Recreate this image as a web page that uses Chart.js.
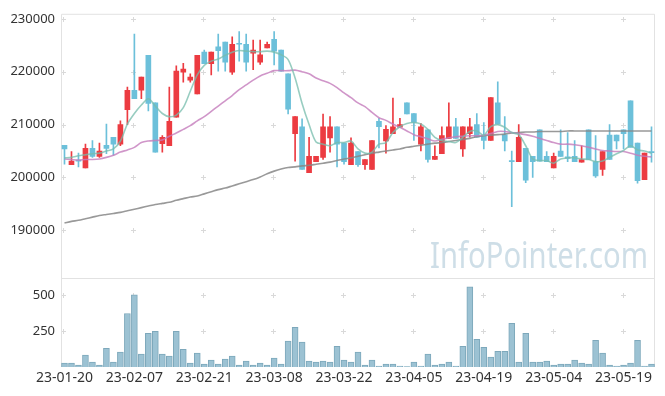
<!DOCTYPE html>
<html>
<head>
<meta charset="utf-8">
<script src="https://cdn.jsdelivr.net/npm/chart.js"></script>
<style>
  html, body { margin: 0; padding: 0; background: #fff; }
  #wrap { width: 665px; height: 396px; }
</style>
</head>
<body>
<div id="wrap"><canvas id="stockChart" width="665" height="396"></canvas></div>
<script>
const dates = [
  '23-01-20','23-01-25','23-01-26','23-01-27','23-01-30','23-01-31',
  '23-02-01','23-02-02','23-02-03','23-02-06','23-02-07','23-02-08','23-02-09','23-02-10','23-02-13','23-02-14',
  '23-02-15','23-02-16','23-02-17','23-02-20','23-02-21','23-02-22','23-02-23','23-02-24','23-02-27','23-02-28',
  '23-03-02','23-03-03','23-03-06','23-03-07','23-03-08','23-03-09','23-03-10','23-03-13','23-03-14','23-03-15',
  '23-03-16','23-03-17','23-03-20','23-03-21','23-03-22','23-03-23','23-03-24','23-03-27','23-03-28','23-03-29',
  '23-03-30','23-03-31','23-04-03','23-04-04','23-04-05','23-04-06','23-04-07','23-04-10','23-04-11','23-04-12',
  '23-04-13','23-04-14','23-04-17','23-04-18','23-04-19','23-04-20','23-04-21','23-04-24','23-04-25','23-04-26',
  '23-04-27','23-04-28','23-05-02','23-05-03','23-05-04','23-05-08','23-05-09','23-05-10','23-05-11','23-05-12',
  '23-05-15','23-05-16','23-05-17','23-05-18','23-05-19','23-05-22','23-05-23','23-05-24','23-05-25'
];

const openPrices = [
  206100, 202400, 203300, 201800, 205500, 204000, 206100, 207600, 206300, 212800,
  216500, 216500, 223100, 214100, 206400, 206000, 211400, 219900, 218400, 215800,
  223700, 221500, 224700, 225600, 219900, 225300, 225200, 223500, 221800, 224500,
  226100, 224100, 219600, 208300, 209600, 200900, 203000, 203800, 207500, 209600,
  206500, 202400, 204900, 202400, 201500, 210600, 206900, 208300, 209500, 214100,
  212100, 206300, 209000, 203400, 204500, 207400, 209600, 205400, 208300, 210000,
  207900, 207000, 214100, 208100, 203100, 203000, 205500, 204000, 209000, 204000,
  201800, 205000, 203900, 204000, 202900, 209000, 203000, 201500, 208000, 208000,
  209000, 214500, 206500, 199600, 204900
];
const highPrices = [
  206100, 204900, 204600, 206300, 207000, 206500, 210100, 207600, 210700, 217100,
  227100, 219000, 223100, 214100, 207900, 217100, 221100, 221600, 219600, 223100,
  224100, 223700, 227100, 225600, 226600, 227600, 227100, 226000, 226000, 225600,
  227600, 224100, 219600, 211500, 211100, 207600, 204000, 212000, 211500, 209600,
  206500, 207500, 204900, 203400, 207000, 211200, 209800, 215000, 211200, 214100,
  212100, 210200, 209000, 206000, 209600, 214100, 211200, 209600, 211200, 212100,
  210400, 215100, 218100, 211500, 205000, 210000, 205500, 204000, 209000, 204900,
  204600, 209000, 208500, 207000, 206000, 209000, 207900, 204900, 210000, 208000,
  209000, 214500, 206500, 204600, 209600
];
const lowPrices = [
  202500, 202400, 202000, 201800, 203800, 203800, 204500, 204200, 206000, 210000,
  214900, 214900, 212600, 204800, 204800, 206000, 211400, 218000, 218000, 215800,
  221500, 219400, 220100, 220100, 219500, 222000, 220100, 220400, 221400, 224500,
  221300, 220100, 212000, 203100, 201500, 200900, 203000, 203400, 204800, 202000,
  202500, 202400, 202100, 201500, 201500, 205600, 204600, 208300, 209500, 212000,
  207000, 205000, 202900, 203400, 204500, 207400, 207400, 204000, 207600, 207600,
  205400, 207000, 210100, 205000, 194500, 203000, 199000, 200000, 203100, 203000,
  201800, 204000, 203000, 203000, 202900, 203400, 200000, 200400, 203400, 205400,
  205400, 205800, 198900, 199600, 202900
];
const closePrices = [
  205400, 203100, 203100, 205500, 204000, 205000, 205500, 206300, 210000, 216500,
  214900, 219000, 214000, 204800, 207600, 210600, 220100, 220500, 219000, 223100,
  221500, 223700, 224000, 221800, 225200, 225200, 221800, 224100, 223200, 225200,
  223900, 220100, 212900, 211500, 201500, 204000, 204000, 209600, 209600, 206300,
  203000, 206500, 202400, 203400, 207000, 209600, 209100, 209600, 210000, 212000,
  210400, 209600, 203400, 204000, 207900, 209600, 207400, 209600, 209600, 207600,
  207000, 215100, 210100, 206900, 203000, 207600, 199500, 203000, 203100, 203000,
  204000, 204000, 203600, 203000, 203400, 203400, 200300, 204900, 203400, 206900,
  208300, 205700, 199400, 204600, 204700
];

const ma5 = [
  203700, 203800, 204100, 204300, 204500, 204600, 205000, 205400, 206900, 210100,
  212100, 213700, 214900, 213500, 212100, 211500, 211800, 213200, 216300, 219400,
  221200, 222000, 222400, 223100, 223700, 224000, 223900, 223800, 223800, 223900,
  223700, 223200, 222300, 218800, 214000, 210000, 206700, 206300, 206000, 206600,
  206600, 206900, 205400, 204600, 204800, 206300, 206600, 208500, 209600, 210200,
  210400, 210100, 209100, 207600, 207000, 206800, 206600, 207600, 208700, 208800,
  208000, 209600, 210000, 209500, 208500, 208100, 206000, 203500, 203200, 203200,
  202700, 203500, 203700, 203700, 203500, 203400, 203000, 203100, 203800, 204500,
  205100, 206000, 205200, 205000, 204600
];
const ma20 = [
  203500, 203400, 203300, 203400, 203400, 203500, 203800, 204200, 204800, 205200,
  205700, 206600, 206900, 207000, 207100, 207800, 208400, 209100, 209800, 210700,
  211500, 212500, 213500, 214500, 215500, 216600, 217500, 218400, 219200, 219700,
  220200, 220200, 220200, 220300, 220000, 219600, 218800, 218300, 217800, 217000,
  216000, 215100, 214100, 213400, 212300, 211300, 210800, 210100, 209500, 208800,
  208100, 207700, 207300, 206900, 207200, 207500, 207700, 207800, 207900, 207900,
  208000, 208300, 208700, 208700, 208500, 208300, 208100, 207800, 207400, 207000,
  206600, 206300, 206300, 206200, 206000, 205700, 205400, 205100, 205000, 204900,
  204900, 204600, 204200, 204000, 203900
];
const ma60 = [
  191400, 191700, 191900, 192200, 192500, 192800, 193000, 193200, 193400, 193700,
  194000, 194300, 194600, 194900, 195100, 195300, 195700, 196000, 196300, 196500,
  196900, 197300, 197700, 198000, 198400, 198800, 199200, 199600, 200100, 200700,
  201200, 201600, 201900, 202000, 202200, 202300, 202500, 202700, 202900, 203200,
  203500, 203700, 204000, 204300, 204600, 204800, 205000, 205200, 205400, 205700,
  205900, 206100, 206300, 206500, 206600, 206800, 207000, 207200, 207400, 207700,
  207900, 208000, 208100, 208200, 208400, 208500, 208600, 208600, 208700, 208700,
  208700, 208700, 208800, 208800, 208800, 208800, 208800, 208800, 208800, 208800,
  208800, 208800, 208800, 208800, 208800
];

const volumes = [
  28, 28, 14, 83, 35, 14, 131, 35, 104, 373,
  504, 90, 235, 249, 90, 76, 249, 124, 28, 97,
  21, 48, 21, 55, 76, 14, 41, 14, 28, 14,
  62, 21, 180, 276, 173, 41, 35, 41, 35, 145,
  48, 35, 104, 14, 48, 7, 21, 21, 7, 3,
  35, 7, 90, 14, 21, 35, 7, 145, 559, 193,
  138, 69, 110, 110, 304, 35, 235, 35, 35, 41,
  14, 21, 21, 48, 28, 21, 186, 97, 14, 7,
  14, 28, 186, 7, 21
];

const priceTicks = [190000, 200000, 210000, 220000, 230000];
const volumeTicks = [250, 500];

const UP_COLOR = '#ec3b41';
const DOWN_COLOR = '#6cc0da';
const FRAME_COLOR = '#e2e2e2';

Chart.defaults.font.family = '"Noto Sans", sans-serif';
Chart.defaults.color = '#333';

const candleColors = closePrices.map((c, i) => c >= openPrices[i] ? UP_COLOR : DOWN_COLOR);
const wicks = lowPrices.map((l, i) => [l, highPrices[i]]);
const bodies = openPrices.map((o, i) => [o, closePrices[i]]);

// frame, "+" grid marks and the watermark, drawn under the data
const backdrop = {
  id: 'backdrop',
  beforeDatasetsDraw(chart) {
    const { ctx, chartArea, scales } = chart;
    const { x, y, yv } = scales;
    ctx.save();

    ctx.font = '36px "Noto Sans"';
    ctx.fillStyle = 'rgba(165,195,212,0.55)';
    ctx.textBaseline = 'alphabetic';
    const text = 'InfoPointer.com';
    const w = ctx.measureText(text).width;
    ctx.translate(430, 268);
    ctx.scale(218 / w, 1);
    ctx.fillText(text, 0, 0);
    ctx.setTransform(1, 0, 0, 1, 0, 0);

    ctx.strokeStyle = '#d9d9d9';
    ctx.lineWidth = 1;
    const cols = x.ticks.map(t => Math.round(x.getPixelForValue(t.value)) - 0.5);
    const rows = priceTicks.map(v => Math.round(y.getPixelForValue(v)) + 0.5)
      .concat(volumeTicks.map(v => Math.round(yv.getPixelForValue(v)) + 0.5));
    ctx.beginPath();
    cols.forEach(cx => {
      rows.forEach(cy => {
        ctx.moveTo(cx - 2.5, cy); ctx.lineTo(cx + 2.5, cy);
        ctx.moveTo(cx, cy - 2.5); ctx.lineTo(cx, cy + 2.5);
      });
    });
    ctx.stroke();

    ctx.strokeStyle = FRAME_COLOR;
    ctx.beginPath();
    ctx.moveTo(chartArea.left + 0.5, chartArea.bottom);
    ctx.lineTo(chartArea.left + 0.5, chartArea.top + 0.5);
    ctx.lineTo(chartArea.right - 0.5, chartArea.top + 0.5);
    ctx.lineTo(chartArea.right - 0.5, chartArea.bottom);
    ctx.moveTo(chartArea.left, Math.round(yv.top) + 0.5);
    ctx.lineTo(chartArea.right, Math.round(yv.top) + 0.5);
    ctx.stroke();
    ctx.restore();
  }
};

const lineStyle = {
  type: 'line',
  yAxisID: 'y',
  borderWidth: 1.6,
  pointRadius: 0,
  tension: 0.3,
  fill: false,
  order: 0
};

new Chart(document.getElementById('stockChart'), {
  type: 'bar',
  data: {
    labels: dates,
    datasets: [
      { ...lineStyle, label: 'MA5', data: ma5, borderColor: 'rgba(118,188,172,0.75)' },
      { ...lineStyle, label: 'MA20', data: ma20, borderColor: 'rgba(196,124,188,0.8)' },
      { ...lineStyle, label: 'MA60', data: ma60, borderColor: 'rgba(135,135,135,0.85)' },
      {
        label: 'body',
        data: bodies,
        yAxisID: 'y',
        backgroundColor: candleColors,
        barThickness: 5,
        minBarLength: 1,
        grouped: false,
        order: 1
      },
      {
        label: 'wick',
        data: wicks,
        yAxisID: 'y',
        backgroundColor: candleColors,
        barThickness: 1,
        grouped: false,
        order: 2
      },
      {
        label: 'volume',
        data: volumes,
        yAxisID: 'yv',
        backgroundColor: '#9cc2d3',
        borderColor: '#7da8bb',
        borderWidth: 1,
        barThickness: 6,
        grouped: false,
        order: 3
      }
    ]
  },
  options: {
    responsive: false,
    animation: false,
    layout: { padding: { top: 10, right: 10, left: 0, bottom: 0 } },
    plugins: {
      legend: { display: false },
      tooltip: { enabled: false }
    },
    scales: {
      x: {
        type: 'category',
        offset: true,
        grid: { display: false, drawTicks: false },
        border: { display: false },
        ticks: { autoSkip: false, maxRotation: 0, padding: 3, font: { size: 14 }, color: '#333' },
        afterBuildTicks: s => { s.ticks = s.ticks.filter(t => t.value % 10 === 0); },
        afterFit: s => { s.height = 29; }
      },
      yv: {
        position: 'left',
        stack: 'panes',
        stackWeight: 90,
        min: 0,
        max: 621,
        grid: { display: false, drawTicks: false },
        border: { display: false },
        ticks: { padding: 6, font: { size: 13 }, color: '#333', callback: v => String(v) },
        afterBuildTicks: s => { s.ticks = volumeTicks.map(v => ({ value: v })); },
        afterFit: s => { s.width = 61; }
      },
      y: {
        position: 'left',
        stack: 'panes',
        stackWeight: 267,
        min: 181000,
        max: 230950,
        grid: { display: false, drawTicks: false },
        border: { display: false },
        ticks: { padding: 6, font: { size: 13 }, color: '#333', callback: v => String(v) },
        afterBuildTicks: s => { s.ticks = priceTicks.map(v => ({ value: v })); },
        afterFit: s => { s.width = 61; }
      }
    }
  },
  plugins: [backdrop]
});
</script>
</body>
</html>
